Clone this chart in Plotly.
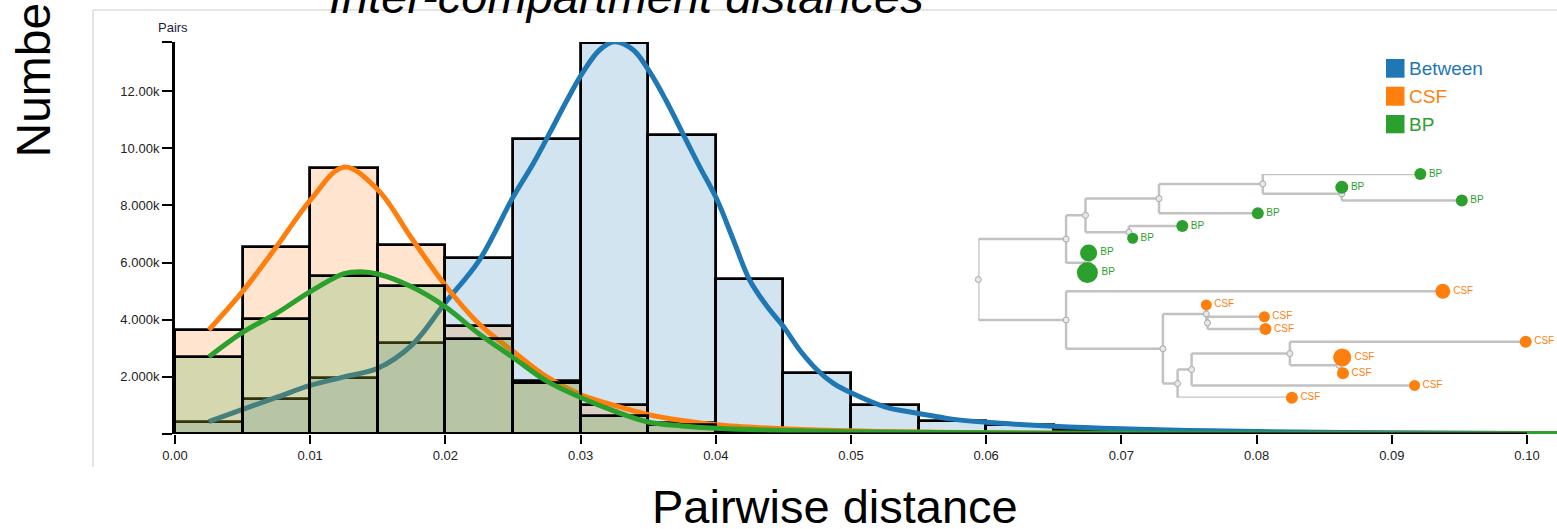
import plotly.graph_objects as go

# ------------------------------------------------------------------ data
bin_left = [0.000, 0.005, 0.010, 0.015, 0.020, 0.025, 0.030, 0.035,
            0.040, 0.045, 0.050, 0.055, 0.060, 0.065, 0.070, 0.075]
bin_width = 0.005
between_counts = [430, 1210, 1970, 3200, 6170, 10320, 13700, 10450,
                  5430, 2150, 1010, 470, 320, 140, 60, 20]
csf_counts = [3640, 6530, 9310, 6630, 3780, 1840, 1010, 380,
              120, 40, 15, 5, 0, 0, 0, 0]
bp_counts = [2700, 4040, 5520, 5170, 3340, 1800, 630, 330,
             100, 30, 10, 5, 0, 0, 0, 0]

between_curve_x = [0.0025, 0.005, 0.0075, 0.01, 0.0125, 0.015, 0.0175, 0.02, 0.0225,
                   0.025, 0.0265, 0.0277, 0.029, 0.0302, 0.0314, 0.0325, 0.0339,
                   0.0351, 0.0363, 0.0378, 0.0388, 0.0401, 0.0413, 0.0425, 0.0438,
                   0.045, 0.0462, 0.0475, 0.0487, 0.05, 0.0525, 0.055, 0.0575,
                   0.06, 0.065, 0.07, 0.075, 0.08, 0.09, 0.1, 0.105]
between_curve_y = [430, 860, 1280, 1700, 2000, 2300, 3100, 4600, 6080,
                   8290, 9470, 10520, 11690, 12680, 13440, 13730, 13440,
                   12680, 11690, 10290, 9360, 8190, 6790, 5390, 4460,
                   3760, 2940, 2240, 1770, 1440, 950, 720, 520,
                   410, 270, 180, 125, 85, 40, 20, 15]

csf_curve_x = [0.0025, 0.005, 0.0075, 0.01, 0.0125, 0.015, 0.0175, 0.02, 0.0225,
               0.025, 0.0275, 0.03, 0.0325, 0.035, 0.0375, 0.04, 0.045, 0.05,
               0.055, 0.06, 0.07, 0.08, 0.09, 0.1, 0.105]
csf_curve_y = [3640, 4990, 6550, 8180, 9340, 8550, 6850, 5200, 3850,
               2900, 2000, 1380, 1000, 680, 470, 320, 180, 110,
               70, 45, 20, 10, 5, 3, 2]

bp_curve_x = [0.0025, 0.005, 0.0075, 0.01, 0.0125, 0.01375, 0.015, 0.0175, 0.02,
              0.0225, 0.025, 0.0275, 0.03, 0.0325, 0.035, 0.0375, 0.04, 0.045,
              0.05, 0.06, 0.07, 0.08, 0.09, 0.1, 0.105]
bp_curve_y = [2700, 3560, 4220, 4980, 5610, 5680, 5600, 5150, 4450,
              3500, 2680, 1850, 1280, 800, 420, 280, 200, 120,
              80, 40, 25, 15, 10, 8, 6]

x_ticks = [0.00, 0.01, 0.02, 0.03, 0.04, 0.05, 0.06, 0.07, 0.08, 0.09, 0.10]
x_tick_text = ["0.00", "0.01", "0.02", "0.03", "0.04", "0.05",
               "0.06", "0.07", "0.08", "0.09", "0.10"]
y_ticks = [0, 2000, 4000, 6000, 8000, 10000, 12000, 13720]
y_tick_text = ["", "2.000k", "4.000k", "6.000k", "8.000k", "10.00k", "12.00k", ""]

series_names = ["Between", "CSF", "BP"]


def N(length, children):
    return {"len": length, "children": children}


def L(label, length, size):
    return {"len": length, "label": label, "size": size}


# phylogeny (branch lengths, leaf order top to bottom, leaf marker sizes)
tree = N(0.0, [
    N(0.00878, [
        N(0.00194, [
            N(0.00735, [
                N(0.01038, [
                    L("BP", 0.01576, 12),
                    N(0.00790, [L("BP", 0.0, 13), L("BP", 0.01200, 12)]),
                ]),
                L("BP", 0.00988, 12),
            ]),
            N(0.00434, [L("BP", 0.00534, 12), L("BP", 0.00038, 11)]),
        ]),
        N(0.00213, [L("BP", 0.00012, 17), L("BP", 0.0, 21)]),
    ]),
    N(0.00878, [
        L("CSF", 0.03767, 15),
        N(0.00968, [
            N(0.00434, [
                L("CSF", 0.0, 11),
                N(0.00012, [L("CSF", 0.00569, 11), L("CSF", 0.00580, 12)]),
            ]),
            N(0.00147, [
                N(0.00140, [
                    N(0.00983, [
                        L("CSF", 0.02358, 12),
                        N(0.00492, [L("CSF", 0.00031, 18), L("CSF", 0.00039, 12)]),
                    ]),
                    L("CSF", 0.02230, 11),
                ]),
                L("CSF", 0.01143, 12),
            ]),
        ]),
    ]),
])

# ------------------------------------------------------------------ styles
C_BLUE = "#1f77b4"
C_ORANGE = "#ff7f0e"
C_GREEN = "#2ca02c"
FILL = {"Between": "rgba(31,119,180,0.2)", "CSF": "rgba(255,127,14,0.2)",
        "BP": "rgba(44,160,44,0.2)"}
LINE = {"Between": C_BLUE, "CSF": C_ORANGE, "BP": C_GREEN}
LABEL_COLOR = {"BP": C_GREEN, "CSF": C_ORANGE}
FONT = "Liberation Sans, Arial, Helvetica, sans-serif"

W, H = 1557, 529
PLOT_L, PLOT_R, PLOT_T, PLOT_B = 175, 1557, 42, 434   # window pixels
ML, MR, MT, MB = PLOT_L, W - PLOT_R, PLOT_T, H - PLOT_B
PW, PH = PLOT_R - PLOT_L, PLOT_B - PLOT_T
XMAX = PW / 13520.0  # x-range so 0.01 spans ~135 px
YMAX = 13720


def px(xp):
    return (xp - PLOT_L) / PW


def py(yp):
    return (PLOT_B - yp) / PH


# ------------------------------------------------------------------ tree layout
leaf_pts, node_pts, seg_x, seg_y = [], [], [], []
state = {"y": 0.0, "prev": None}


def lay(node, depth):
    x = depth + node["len"]
    if "children" not in node:
        if state["prev"] is not None:
            state["y"] += (state["prev"] + node["size"]) / 2.0 + 1.0
        state["prev"] = node["size"]
        leaf_pts.append((x, state["y"], node["label"], node["size"]))
        return x, state["y"]
    kids = [lay(c, x) for c in node["children"]]
    y = (kids[0][1] + kids[-1][1]) / 2.0
    seg_x.extend([x, x, None])
    seg_y.extend([kids[0][1], kids[-1][1], None])
    for kx, ky in kids:
        seg_x.extend([x, kx, None])
        seg_y.extend([ky, ky, None])
    node_pts.append((x, y))
    return x, y


lay(tree, 0.0)
tree_depth = max(p[0] for p in leaf_pts)
tree_height = state["y"]

# ------------------------------------------------------------------ figure
fig = go.Figure()
series = [
    ("Between", between_counts, between_curve_x, between_curve_y, "x", "y"),
    ("CSF", csf_counts, csf_curve_x, csf_curve_y, "x2", "y2"),
    ("BP", bp_counts, bp_curve_x, bp_curve_y, "x3", "y3"),
]
for name, counts, cx, cy, xa, ya in series:
    fig.add_trace(go.Bar(
        x=bin_left, y=counts, width=bin_width, offset=0,
        marker=dict(color=FILL[name], line=dict(color="black", width=2.8)),
        xaxis=xa, yaxis=ya, showlegend=False, name=name, hoverinfo="skip"))
    fig.add_trace(go.Scatter(
        x=cx, y=cy, mode="lines", line=dict(color=LINE[name], width=5, shape="spline"),
        xaxis=xa, yaxis=ya, showlegend=False, name=name, hoverinfo="skip"))

# tree
fig.add_trace(go.Scatter(x=seg_x, y=seg_y, mode="lines",
                         line=dict(color="#c2c2c2", width=2.5),
                         xaxis="x4", yaxis="y4", showlegend=False,
                         cliponaxis=False, hoverinfo="skip"))
fig.add_trace(go.Scatter(x=[p[0] for p in node_pts], y=[p[1] for p in node_pts],
                         mode="markers",
                         marker=dict(size=6, color="#e8e8e8", opacity=1,
                                     line=dict(color="#a9a9a9", width=1)),
                         xaxis="x4", yaxis="y4", showlegend=False,
                         cliponaxis=False, hoverinfo="skip"))
fig.add_trace(go.Scatter(x=[p[0] for p in leaf_pts], y=[p[1] for p in leaf_pts],
                         mode="markers+text",
                         text=[p[2] for p in leaf_pts],
                         textposition="middle right",
                         textfont=dict(size=10, family=FONT,
                                       color=[LABEL_COLOR[p[2]] for p in leaf_pts]),
                         marker=dict(size=[p[3] for p in leaf_pts], opacity=1,
                                     color=[LABEL_COLOR[p[2]] for p in leaf_pts],
                                     line=dict(width=0)),
                         xaxis="x4", yaxis="y4", showlegend=False,
                         cliponaxis=False, hoverinfo="skip"))

hidden = dict(visible=False, range=[0, XMAX], fixedrange=True)
hiddeny = dict(visible=False, range=[0, YMAX], fixedrange=True)

fig.update_layout(
    width=W, height=H,
    margin=dict(l=ML, r=MR, t=MT, b=MB, pad=0),
    paper_bgcolor="white", plot_bgcolor="rgba(0,0,0,0)",
    barmode="overlay", bargap=0,
    font=dict(family=FONT, color="#222", size=13),
    xaxis=dict(range=[0, XMAX], showgrid=False, zeroline=False, showline=False,
               ticks="outside", ticklen=9, tickwidth=2, tickcolor="black",
               tickvals=x_ticks, ticktext=x_tick_text,
               tickfont=dict(size=13, color="#222")),
    yaxis=dict(range=[0, YMAX], showgrid=False, zeroline=False, showline=True,
               linecolor="black", linewidth=3,
               ticks="outside", ticklen=10, tickwidth=2, tickcolor="black",
               tickvals=y_ticks, ticktext=y_tick_text,
               tickfont=dict(size=13, color="#222")),
    xaxis2=dict(hidden, overlaying="x"),
    yaxis2=dict(hiddeny, overlaying="y"),
    xaxis3=dict(hidden, overlaying="x"),
    yaxis3=dict(hiddeny, overlaying="y"),
    xaxis4=dict(visible=False, anchor="y4",
                domain=[px(978.3), px(1525.7)], range=[0, tree_depth]),
    yaxis4=dict(visible=False, anchor="x4",
                domain=[py(397.7), py(174)], range=[tree_height, 0]),
)

shapes = [
    # x axis line, only to 0.10
    dict(type="line", xref="x", yref="y", x0=0, x1=0.10, y0=0, y1=0,
         line=dict(color="black", width=3), layer="above"),
    # frame
    dict(type="line", xref="paper", yref="paper", x0=px(93), x1=px(93),
         y0=py(10), y1=py(467), line=dict(color="#dcdcdc", width=1.5)),
    dict(type="line", xref="paper", yref="paper", x0=px(93), x1=1.0,
         y0=py(10), y1=py(10), line=dict(color="#dcdcdc", width=1.5)),
]
legend_rows = [(59, 77.7), (86.7, 105.7), (115, 133.3)]
annotations = []
for name, (y0p, y1p) in zip(series_names, legend_rows):
    shapes.append(dict(type="rect", xref="paper", yref="paper",
                       x0=px(1386), x1=px(1404.5), y0=py(y1p), y1=py(y0p),
                       fillcolor=LINE[name], line=dict(width=0)))
    annotations.append(dict(xref="paper", yref="paper", x=px(1407), y=py((y0p + y1p) / 2),
                            xanchor="left", yanchor="middle", showarrow=False,
                            text=name, font=dict(size=19, color=LINE[name], family=FONT)))

annotations += [
    dict(xref="paper", yref="paper", x=px(626), y=py(-3), xanchor="center",
         yanchor="middle", showarrow=False, text="<i>Inter-compartment distances</i>",
         font=dict(size=47, color="black", family=FONT)),
    dict(xref="paper", yref="paper", x=px(835), y=py(506), xanchor="center",
         yanchor="middle", showarrow=False, text="Pairwise distance",
         font=dict(size=47, color="black", family=FONT)),
    dict(xref="paper", yref="paper", x=px(33), y=py(160), xanchor="center",
         yanchor="bottom", showarrow=False, text="Number of pairs", textangle=-90,
         font=dict(size=48, color="black", family=FONT)),
    dict(xref="paper", yref="paper", x=px(173), y=py(27), xanchor="center",
         yanchor="middle", showarrow=False, text="Pairs",
         font=dict(size=13, color="#1c1c3c", family=FONT)),
]
fig.update_layout(shapes=shapes, annotations=annotations)

# the page is exactly the figure size: drop the default body margin
fig.write_html("out.html",
               config={"displayModeBar": False},
               post_script="document.body.style.margin='0';"
                           "document.body.style.overflow='hidden';")
